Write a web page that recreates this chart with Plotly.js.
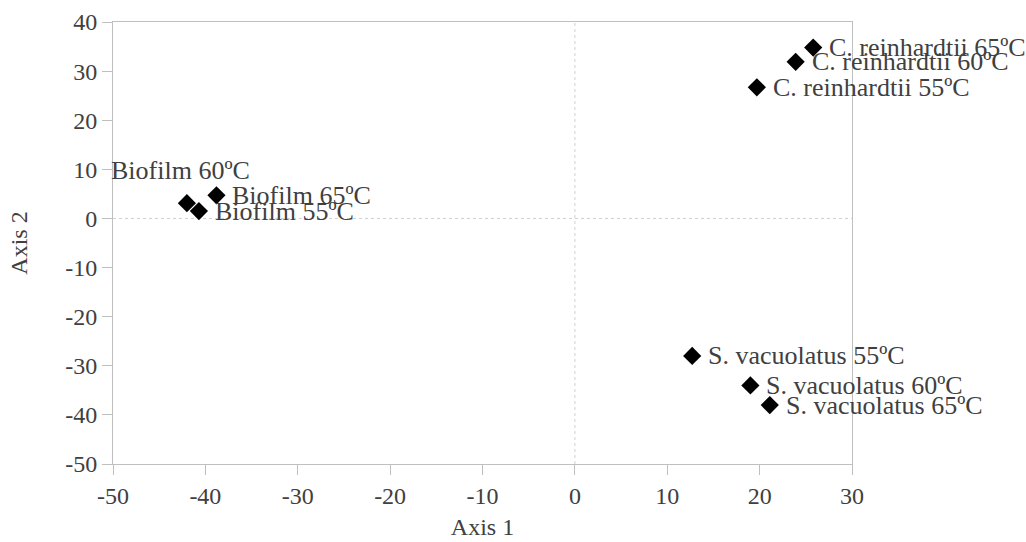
<!DOCTYPE html>
<html>
<head>
<meta charset="utf-8">
<script src="https://cdn.plot.ly/plotly-3.0.1.min.js"></script>
<style>
  html, body { margin: 0; padding: 0; background: #ffffff; overflow: hidden; }
  #chart { width: 1026px; height: 542px; }
</style>
</head>
<body>
<div id="chart"></div>
<script>
// Sample labels and their ordination scores
const labels = [
  "Biofilm 55ºC", "Biofilm 60ºC", "Biofilm 65ºC",
  "C. reinhardtii 55ºC", "C. reinhardtii 60ºC", "C. reinhardtii 65ºC",
  "S. vacuolatus 55ºC", "S. vacuolatus 60ºC", "S. vacuolatus 65ºC"
];
const axis1 = [-40.7, -42.0, -38.8, 19.7, 23.9, 25.8, 12.7, 19.0, 21.1];
const axis2 = [1.5, 3.1, 4.7, 26.7, 31.9, 34.8, -28.0, -34.0, -38.0];

// Tick labels with a plain hyphen for negatives
const xTickVals = [-50, -40, -30, -20, -10, 0, 10, 20, 30];
const xTickText = ["-50", "-40", "-30", "-20", "-10", "0", "10", "20", "30"];
const yTickVals = [-50, -40, -30, -20, -10, 0, 10, 20, 30, 40];
const yTickText = ["-50", "-40", "-30", "-20", "-10", "0", "10", "20", "30", "40"];

const textColor = "#404040";
const lineColor = "#bfbfbf";
const serif = "Liberation Serif";

const trace = {
  type: "scatter",
  mode: "markers",
  x: axis1,
  y: axis2,
  cliponaxis: false,
  marker: { symbol: "diamond", size: 14, color: "#000000" },
  hoverinfo: "skip",
  showlegend: false
};

// Point labels sit to the right of each marker; the Biofilm 60ºC label sits above its point
const annotations = labels.map((t, i) => {
  const above = t === "Biofilm 60ºC";
  return {
    x: axis1[i], y: axis2[i], xref: "x", yref: "y",
    text: t, showarrow: false,
    xanchor: above ? "center" : "left",
    yanchor: "middle",
    xshift: above ? -6 : 14,
    yshift: above ? 33 : 0,
    font: { family: serif, size: 26, color: textColor }
  };
});

const axisCommon = {
  showgrid: false,
  zeroline: false,
  showline: true,
  mirror: true,
  linecolor: lineColor,
  linewidth: 1,
  ticks: "outside",
  tickcolor: lineColor,
  tickwidth: 1,
  tickmode: "array",
  tickfont: { family: serif, size: 24, color: textColor }
};

const layout = {
  width: 1026,
  height: 542,
  margin: { l: 113, r: 174, t: 22, b: 78 },
  paper_bgcolor: "#ffffff",
  plot_bgcolor: "#ffffff",
  annotations: annotations,
  font: { family: serif },
  xaxis: Object.assign({}, axisCommon, {
    range: [-50, 30],
    tickvals: xTickVals,
    ticktext: xTickText,
    ticklen: 10,
    title: { text: "Axis 1", font: { family: serif, size: 24, color: textColor }, standoff: 10 }
  }),
  yaxis: Object.assign({}, axisCommon, {
    range: [-50, 40],
    tickvals: yTickVals,
    ticktext: yTickText,
    ticklen: 10,
    title: { text: "Axis 2", font: { family: serif, size: 24, color: textColor }, standoff: 30 }
  }),
  shapes: [
    { type: "line", xref: "x", yref: "paper", x0: 0, x1: 0, y0: 0, y1: 1,
      line: { color: "#d0d0d0", width: 1, dash: "3px,3px" }, layer: "below" },
    { type: "line", xref: "paper", yref: "y", x0: 0, x1: 1, y0: 0, y1: 0,
      line: { color: "#d0d0d0", width: 1, dash: "3px,3px" }, layer: "below" }
  ]
};

Plotly.newPlot("chart", [trace], layout, { displayModeBar: false, staticPlot: true });
</script>
</body>
</html>
